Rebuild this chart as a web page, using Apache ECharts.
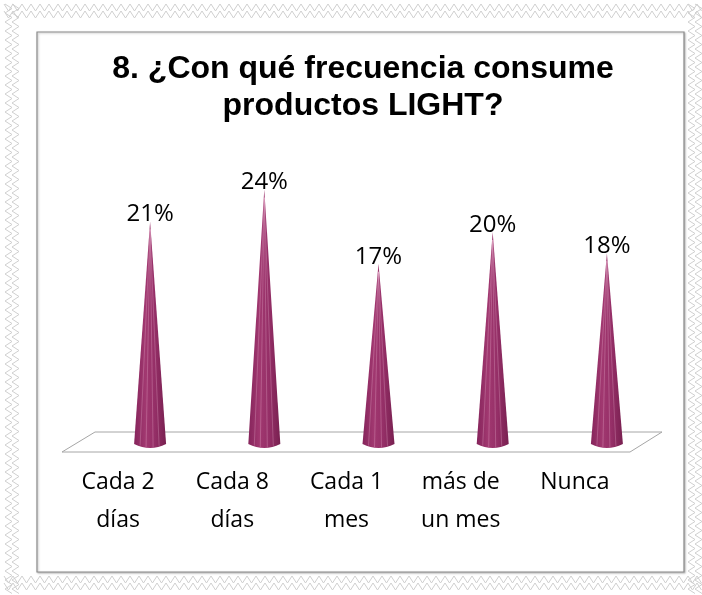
<!DOCTYPE html>
<html>
<head>
<meta charset="utf-8">
<script src="https://cdn.jsdelivr.net/npm/echarts@6/dist/echarts.min.js"></script>
<style>
  html, body { margin: 0; padding: 0; background: #fff; }
  #chart { width: 702px; height: 595px; }
</style>
</head>
<body>
<div id="chart"></div>
<script>
// Survey answers: how often light products are consumed
const categories = ['Cada 2\ndías', 'Cada 8\ndías', 'Cada 1\nmes', 'más de\nun mes', 'Nunca'];
const percentages = [21, 24, 17, 20, 18];
const titleText = '8. ¿Con qué frecuencia consume\nproductos LIGHT?';

const chart = echarts.init(document.getElementById('chart'));

// Zigzag page border drawn as polylines
function zigzag(x0, y0, x1, y1, amp, step) {
  const pts = [];
  const horiz = y0 === y1;
  const len = horiz ? x1 - x0 : y1 - y0;
  const n = Math.floor(len / step);
  for (let i = 0; i <= n; i++) {
    const off = (i % 2 === 0) ? 0 : amp;
    if (horiz) pts.push([x0 + i * step, y0 + off]);
    else pts.push([x0 + off, y0 + i * step]);
  }
  return pts;
}
const borderGraphics = [];
const zz = [
  zigzag(4, 4, 702, 4, 7, 4.5), zigzag(4, 11, 702, 11, 7, 4.5),
  zigzag(4, 576, 702, 576, 7, 4.5), zigzag(4, 583, 702, 583, 7, 4.5),
  zigzag(5, 4, 5, 595, 7, 4.5), zigzag(12, 4, 12, 595, 7, 4.5),
  zigzag(688, 4, 688, 595, 7, 4.5), zigzag(695, 4, 695, 595, 7, 4.5)
];
zz.forEach(p => borderGraphics.push({
  type: 'polyline', silent: true, z: -20,
  shape: { points: p },
  style: { stroke: '#cfcfcf', lineWidth: 1, fill: null }
}));

// Cone with an elliptical base, pointing up to the value
function renderCone(params, api) {
  const idx = api.value(0);
  const val = api.value(1);
  const base = api.coord([idx, 0]);
  const tip = api.coord([idx, val]);
  const hw = 16, eh = 4;
  const cx = base[0], by = base[1];
  const grad = new echarts.graphic.LinearGradient(0, 0, 1, 0, [
    { offset: 0, color: '#85245b' },
    { offset: 0.35, color: '#a13870' },
    { offset: 0.65, color: '#952f67' },
    { offset: 1, color: '#782050' }
  ]);
  const path = 'M' + tip[0] + ' ' + tip[1] +
    ' L' + (cx + hw) + ' ' + by +
    ' Q' + cx + ' ' + (by + 2 * eh) + ' ' + (cx - hw) + ' ' + by + ' Z';
  const children = [{
    type: 'path',
    shape: { pathData: path },
    style: { fill: grad }
  }];
  // faint vertical facets
  [-10, -4, 3, 9].forEach(dx => {
    children.push({
      type: 'line',
      shape: { x1: tip[0], y1: tip[1] + 8, x2: cx + dx, y2: by + eh * (1 - Math.abs(dx) / hw) },
      style: { stroke: 'rgba(255,215,235,0.3)', lineWidth: 0.8 }
    });
  });
  children.push({
    type: 'text',
    style: {
      text: val + '%', x: tip[0], y: tip[1] + 5,
      align: 'center', verticalAlign: 'bottom',
      fill: '#000', font: '24px "Open Sans", sans-serif'
    }
  });
  return { type: 'group', children: children };
}

chart.setOption({
  animation: false,
  title: {
    text: titleText,
    left: 358, top: 46, textAlign: 'center',
    textStyle: { fontFamily: '"Liberation Sans", Arial, sans-serif', fontWeight: 'bold', fontSize: 32, lineHeight: 37, color: '#000' }
  },
  grid: { left: 93, right: 38, top: 126, bottom: 151 },
  xAxis: {
    type: 'category', data: categories,
    axisLine: { show: false }, axisTick: { show: false },
    z: 5,
    axisLabel: {
      margin: 19, color: '#000', fontSize: 23, lineHeight: 38,
      fontFamily: '"Open Sans", sans-serif', interval: 0,
      padding: [0, 64, 0, 0]
    }
  },
  yAxis: { type: 'value', min: 0, max: 30, show: false, splitLine: { show: false } },
  graphic: borderGraphics.concat([
    {
      type: 'rect', silent: true, z: -10,
      shape: { x: 37, y: 32, width: 647, height: 540 },
      style: { fill: '#fff', stroke: '#8a8a8a', lineWidth: 1.2, shadowColor: 'rgba(0,0,0,0.25)', shadowBlur: 2, shadowOffsetX: 1, shadowOffsetY: 1 }
    },
    {
      type: 'polygon', silent: true, z: -5,
      shape: { points: [[62, 452], [95, 432], [662, 432], [630, 452]] },
      style: { fill: '#fff', stroke: '#a6a6a6', lineWidth: 1 }
    }
  ]),
  series: [{
    type: 'custom', z: 10,
    renderItem: renderCone,
    data: percentages.map((v, i) => [i, v])
  }]
});
</script>
</body>
</html>
